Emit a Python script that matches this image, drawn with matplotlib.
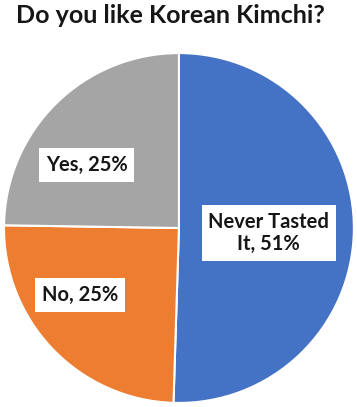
import matplotlib
matplotlib.use("Agg")
import matplotlib.pyplot as plt

categories = ["Never Tasted\nIt", "No", "Yes"]
values = [51, 25, 25]
colors = ["#4472C4", "#ED7D31", "#A5A5A5"]

plt.rcParams['font.family'] = ['Lato', 'DejaVu Sans']

fig = plt.figure(figsize=(3.57, 4.07), dpi=100)
ax = fig.add_axes([0.0112, 0.0098, 0.980, 0.860])
wedges, _ = ax.pie(values, colors=colors, startangle=90, counterclock=False,
                   radius=1.0, wedgeprops=dict(edgecolor="white", linewidth=1.5))
ax.set_xlim(-1, 1)
ax.set_ylim(-1, 1)
ax.set_aspect("equal")
ax.axis("off")

label_pos = [(0.514, -0.029), (-0.566, -0.383), (-0.526, 0.36)]
for cat, v, (x, y) in zip(categories, values, label_pos):
    ax.text(x, y, f"{cat}, {v}%", ha="center", va="center", fontsize=14.5,
            fontweight="bold", color="#161616", linespacing=1.15,
            bbox=dict(boxstyle="square,pad=0.33", fc="white", ec="none"))

fig.text(0.478, 0.962, "Do you like Korean Kimchi?", ha="center", va="center",
         fontsize=18, fontweight="bold", color="#161616")

fig.savefig("out.png", dpi=100)
